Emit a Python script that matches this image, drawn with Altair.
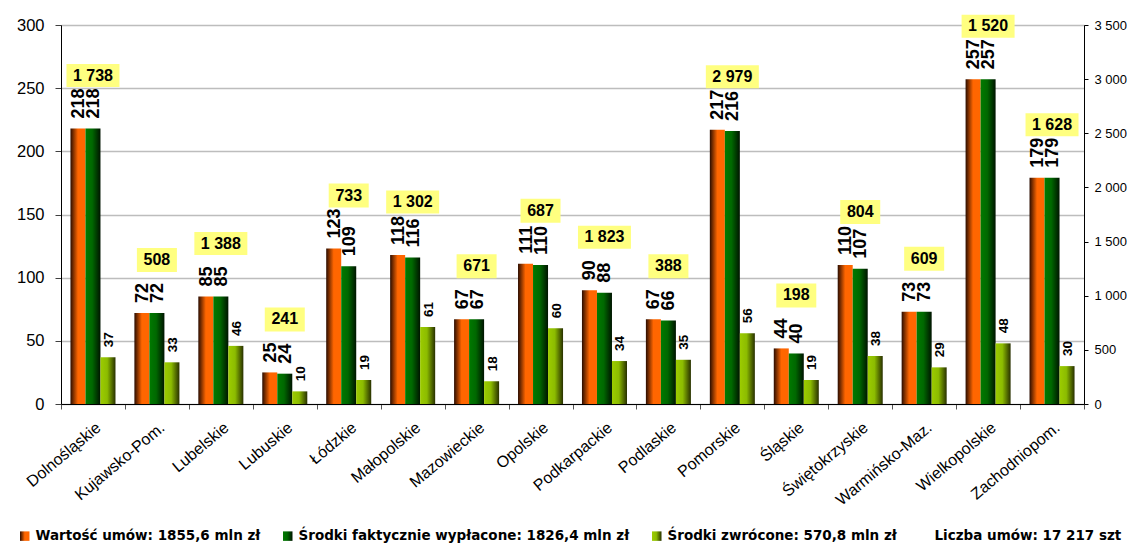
import altair as alt
import pandas as pd

regions = ["Dolnośląskie", "Kujawsko-Pom.", "Lubelskie", "Lubuskie", "Łódzkie", "Małopolskie",
           "Mazowieckie", "Opolskie", "Podkarpackie", "Podlaskie", "Pomorskie", "Śląskie",
           "Świętokrzyskie", "Warmińsko-Maz.", "Wielkopolskie", "Zachodniopom."]
wartosc = [218, 72, 85, 25, 123, 118, 67, 111, 90, 67, 217, 44, 110, 73, 257, 179]
wyplacone = [218, 72, 85, 24, 109, 116, 67, 110, 88, 66, 216, 40, 107, 73, 257, 179]
zwrocone = [37, 33, 46, 10, 19, 61, 18, 60, 34, 35, 56, 19, 38, 29, 48, 30]
liczba = [1738, 508, 1388, 241, 733, 1302, 671, 687, 1823, 388, 2979, 198, 804, 609, 1520, 1628]

series = ["Wartość umów: 1855,6 mln zł",
          "Środki faktycznie wypłacone: 1826,4 mln zł",
          "Środki zwrócone: 570,8 mln zł"]
count_legend = "Liczba umów: 17 217 szt"
left_ticks = [0, 50, 100, 150, 200, 250, 300]
right_ticks = [0, 500, 1000, 1500, 2000, 2500, 3000, 3500]

rows = []
for i, r in enumerate(regions):
    for s, vals in zip(series, [wartosc, wyplacone, zwrocone]):
        rows.append({"region": r, "series": s, "value": vals[i]})
long_df = pd.DataFrame(rows)
wide_df = pd.DataFrame({"region": regions, "wartosc": wartosc, "liczba": liczba})


def grad(stops):
    parts = ",".join("{offset:%s,color:'%s'}" % (o, c) for o, c in stops)
    return {"expr": "{gradient:'linear',x1:0,y1:0,x2:1,y2:0,stops:[%s]}" % parts}


g_orange = grad([(0, "#2a0c00"), (0.5, "#ff6600"), (1, "#ff6600")])
g_green = grad([(0, "#007a00"), (0.45, "#006800"), (1, "#001400")])
g_lime = grad([(0, "#9ccc00"), (0.45, "#8cbc00"), (1, "#283000")])

FONT = "Liberation Sans"

x_enc = alt.X("region:N", sort=regions, title=None,
              scale=alt.Scale(paddingInner=0, paddingOuter=0),
              axis=alt.Axis(labelAngle=-40, labelFontSize=16, labelFont=FONT, labelColor="black",
                            tickBand="extent", tickSize=5, tickColor="#555555",
                            domainColor="black", labelPadding=10, labelOffset=0,
                            grid=False, labelOverlap=False))
xoff_enc = alt.XOffset("series:N", scale=alt.Scale(domain=series, paddingInner=0, paddingOuter=0.63))


def yscale():
    return alt.Scale(domain=[0, 300], nice=False)


left_axis = alt.Axis(title=None, values=left_ticks, grid=True, gridColor="#bdbdbd", gridWidth=1.3,
                     domainColor="black", tickColor="#404040", tickSize=6, labelFontSize=16.5,
                     labelPadding=11, labelColor="black", labelFont=FONT)
right_axis = alt.Axis(title=None, orient="right", values=right_ticks, grid=False, domainColor="black",
                      tickColor="black", tickSize=4, labelFontSize=13, labelPadding=6,
                      labelColor="black", labelFont=FONT,
                      labelExpr="replace(format(datum.value, ','), ',', ' ')")

color_enc = alt.Color("series:N",
                      scale=alt.Scale(domain=series + [count_legend],
                                      range=[g_orange, g_green, g_lime, "transparent"]),
                      legend=alt.Legend(orient="none", legendX=-43, legendY=504, direction="horizontal",
                                        columns=4, symbolType="square", symbolSize=90, symbolStrokeWidth=0,
                                        labelFont="DejaVu Sans", labelFontWeight="bold", labelFontSize=13.5,
                                        labelColor="black", labelLimit=600, labelOffset=4, columnPadding=20,
                                        title=None, padding=0))

bars = alt.Chart(long_df).mark_bar().encode(
    x=x_enc, xOffset=xoff_enc,
    y=alt.Y("value:Q", scale=yscale(), axis=left_axis),
    color=color_enc)

# rotated text: dx runs along the text (upwards), dy across it
labels_big = alt.Chart(long_df).transform_filter(
    alt.FieldOneOfPredicate(field="series", oneOf=series[:2])
).mark_text(angle=270, align="left", baseline="middle", dx=10, dy=1, fontSize=18,
            fontWeight="bold", font=FONT, color="black").encode(
    x=x_enc, xOffset=xoff_enc, y=alt.Y("value:Q", scale=yscale(), axis=None), text="value:Q")

labels_small = alt.Chart(long_df).transform_filter(
    alt.FieldEqualPredicate(field="series", equal=series[2])
).mark_text(angle=270, align="left", baseline="middle", dx=10, dy=1, fontSize=13.5,
            fontWeight="bold", font=FONT, color="black").encode(
    x=x_enc, xOffset=xoff_enc, y=alt.Y("value:Q", scale=yscale(), axis=None), text="value:Q")

path_short = "M-0.755,-0.453L0.755,-0.453L0.755,0.453L-0.755,0.453Z"
path_long = "M-1,-0.434L1,-0.434L1,0.434L-1,0.434Z"

box_base = alt.Chart(wide_df).transform_calculate(
    lbl="replace(format(datum.liczba, ','), ',', ' ')"
).transform_calculate(
    n="length(datum.lbl) > 3 ? 'long' : 'short'"
)

boxes = box_base.mark_point(filled=True, opacity=1, color="#FFFF80", size=2809, strokeWidth=0,
                            yOffset=-53).encode(
    x=x_enc, y=alt.Y("wartosc:Q", scale=yscale(), axis=None),
    shape=alt.Shape("n:N", scale=alt.Scale(domain=["short", "long"], range=[path_short, path_long]),
                    legend=None))

box_text = box_base.mark_text(yOffset=-53, fontSize=16, fontWeight="bold", font=FONT, color="black",
                              align="center", baseline="middle").encode(
    x=x_enc, y=alt.Y("wartosc:Q", scale=yscale(), axis=None), text="lbl:N")

right = alt.Chart(wide_df).mark_point(opacity=0).encode(
    x=x_enc,
    y=alt.Y("liczba:Q", scale=alt.Scale(domain=[0, 3500], nice=False), axis=right_axis))

chart = alt.layer(bars, labels_big, labels_small, boxes, box_text, right).resolve_scale(
    y="independent"
).properties(
    width=1023, height=379,
    autosize=alt.AutoSizeParams(type="none"),
    padding={"left": 53, "top": 17, "right": 43, "bottom": 139},
).configure_view(stroke="#8c8c8c")

chart.save("out.html", embed_options={"renderer": "svg", "actions": False})
